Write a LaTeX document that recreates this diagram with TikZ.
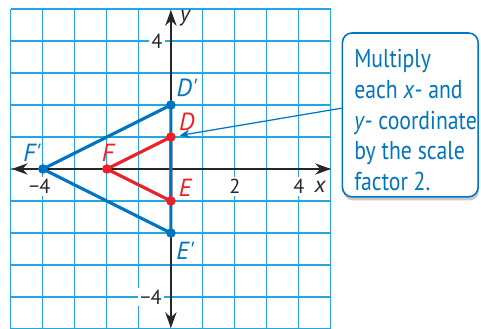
\documentclass[tikz,border=0pt]{standalone}
\usepackage{fontspec}
\setmainfont{PT Sans}
\newfontfamily\notefont[FakeStretch=0.84]{PT Sans}
\usetikzlibrary{arrows.meta,positioning,shadows}
\definecolor{gridBlue}{RGB}{38,166,224}
\definecolor{imgBlue}{RGB}{0,116,190}
\definecolor{preRed}{RGB}{236,32,40}
\tikzset{
  gridline/.style={draw=gridBlue, line width=0.5pt},
  axis/.style={{Stealth[length=7pt,width=5pt]}-{Stealth[length=7pt,width=5pt]}, line width=0.9pt, draw=black!85},
  tick/.style={fill=white, inner sep=1pt, font=\fontsize{9}{10}\selectfont, text=black!85},
  axlabel/.style={inner sep=0pt, font=\fontsize{10}{11}\selectfont\itshape, text=black!85},
  bside/.style={draw=imgBlue, line width=1.4pt, line join=round},
  rside/.style={draw=preRed, line width=1.4pt, line join=round},
  blabel/.style={text=imgBlue, font=\fontsize{11}{12}\selectfont\itshape, inner sep=0pt},
  rlabel/.style={blabel, text=preRed},
  notebox/.style={draw=imgBlue, fill=white, line width=0.7pt, rounded corners=0.15cm,
              minimum width=2.12cm, minimum height=2.56cm,
              drop shadow={shadow xshift=0.4pt, shadow yshift=-1.6pt, fill=black!35, opacity=0.6}},
  notetext/.style={text=imgBlue, align=left, inner sep=0pt, font=\notefont\fontsize{11.5}{13.6}\selectfont},
  notearrow/.style={-{Stealth[length=4.5pt,width=4pt]}, line width=0.55pt, draw=imgBlue, shorten >=4pt}
}
\begin{document}
\begin{tikzpicture}[x=0.5cm, y=0.5cm]
\useasboundingbox (-5.34,-4.97) rectangle (9.69,5.28);
\draw[gridline, step=1] (-5,-5.2) grid (5,5);
\draw[axis] (-4.97,0) -- (5,0);
\draw[axis] (0,-4.97) -- (0,4.97);
\node[tick] (ty4) at (-0.44,4) {4};
\node[tick] (tym4) at (-0.62,-4) {−4};
\node[tick] (txm4) at (-4.1,-0.55) {−4};
\node[tick] (tx2) at (2,-0.55) {2};
\node[tick] (tx4) at (4,-0.55) {4};
\node[axlabel] (xlab) at (4.66,-0.55) {x};
\node[axlabel] (ylab) at (0.44,4.72) {y};
\coordinate (D) at (0,1);
\coordinate (E) at (0,-1);
\coordinate (F) at (-2,0);
\coordinate (Dp) at (0,2);
\coordinate (Ep) at (0,-2);
\coordinate (Fp) at (-4,0);
\draw[rside] (F) -- (D) -- (E) -- cycle;
\draw[bside] (Fp) -- (Dp) -- (Ep) -- cycle;
\fill[imgBlue] (Dp) circle (0.15) (Ep) circle (0.15) (Fp) circle (0.15);
\fill[preRed] (D) circle (0.15) (E) circle (0.15) (F) circle (0.15);
\node[blabel] (labDp) at (0.5,2.55) {D\textquotesingle};
\node[blabel] (labEp) at (0.45,-2.55) {E\textquotesingle};
\node[blabel] (labFp) at (-4.34,0.52) {F\textquotesingle};
\node[rlabel] (labD) at (0.5,1.48) {D};
\node[rlabel] (labE) at (0.45,-0.6) {E};
\node[rlabel] (labF) at (-1.97,0.52) {F};
\node[notebox] (note) at (7.48,1.69) {};
\node[notetext, right=0.19cm of note.west, yshift=-0.08cm] (notetxt) {Multiply\\each \textit{x}- and\\\textit{y}- coordinate\\by the scale\\factor 2.};
\draw[notearrow] ([yshift=0.105cm]note.west) -- (D);
\end{tikzpicture}
\end{document}
